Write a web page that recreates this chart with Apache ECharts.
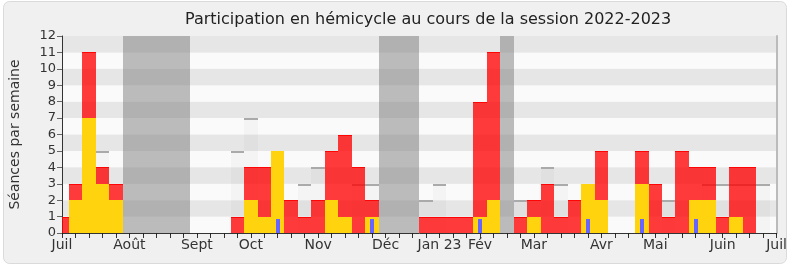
<!DOCTYPE html>
<html><head><meta charset="utf-8">
<script src="https://cdn.jsdelivr.net/npm/echarts@6/dist/echarts.min.js"></script>
<style>html,body{margin:0;padding:0;background:#ffffff}#c{width:790px;height:267px}</style>
</head><body><div id="c"></div>
<script>
// week index categories (0 .. 53)
const weeks = ['0','1','2','3','4','5','6','7','8','9','10','11','12','13','14','15','16','17','18','19','20','21','22','23','24','25','26','27','28','29','30','31','32','33','34','35','36','37','38','39','40','41','42','43','44','45','46','47','48','49','50','51','52','53'];
// month tick labels (week index -> label)
const monthLabels = {0:'Juil',5:'Août',10:'Sept',14:'Oct',19:'Nov',24:'Déc',28:'Jan 23',31:'Fév',35:'Mar',40:'Avr',44:'Mai',49:'Juin',53:'Juil'};
// vacation weeks (12 = full height band)
const vacances = [0,0,0,0,0,12,12,12,12,12,0,0,0,0,0,0,0,0,0,0,0,0,0,0,12,12,12,0,0,0,0,0,0,12,0,0,0,0,0,0,0,0,0,0,0,0,0,0,0,0,0,0,0,0];
// median of deputies (grey)
const mediane = [0,0,0,5,0,0,0,0,0,0,0,0,0,5,7,0,0,0,3,4,0,0,3,3,0,0,0,2,3,0,0,0,0,0,2,0,4,3,0,0,0,0,0,0,0,2,0,0,3,3,3,3,3,0];
// présences (red)
const presences = [1,3,11,4,3,0,0,0,0,0,0,0,0,1,4,4,5,2,1,2,5,6,4,2,0,0,0,1,1,1,1,8,11,0,1,2,3,1,2,3,5,0,0,5,3,1,5,4,4,1,4,4,0,0];
// interventions (yellow)
const interventions = [0,2,7,3,2,0,0,0,0,0,0,0,0,0,2,1,5,0,0,0,2,1,0,1,0,0,0,0,0,0,0,1,2,0,0,1,0,0,0,3,2,0,0,3,0,0,0,2,2,0,1,0,0,0];
// questions (blue)
const questions = [0,0,0,0,0,0,0,0,0,0,0,0,0,0,0,0,0.85,0,0,0,0,0,0,0.85,0,0,0,0,0,0,0,0.85,0,0,0,0,0,0,0,0.85,0,0,0,0.85,0,0,0,0.85,0,0,0,0,0,0];
const yTicks = [0,1,2,3,4,5,6,7,8,9,10,11,12];

const chart = echarts.init(document.getElementById('c'), null, {renderer:'canvas'});

function barSeries(name, values, fill, z, frac, capColor, capW) {
  return {
    type:'custom', name:name, xAxisIndex:0, yAxisIndex:0, z:z, silent:true,
    data: values.map((v,i)=>[i,v]),
    renderItem: function(params, api){
      const v = api.value(1);
      if (!v) return;
      const i = api.value(0);
      const p = api.coord([i, v]);
      const b = api.coord([i, 0]);
      const w = api.size([1,0])[0]*frac;
      const cs = params.coordSys;
      let x0 = Math.round(p[0]-w/2), x1 = Math.round(p[0]+w/2);
      x0 = Math.max(x0, Math.round(cs.x)); x1 = Math.min(x1, Math.round(cs.x+cs.width));
      if (x1 <= x0) return;
      const y0 = Math.round(p[1]), y1 = Math.round(b[1]);
      const children = [{type:'rect', shape:{x:x0, y:y0, width:x1-x0, height:y1-y0}, style:{fill:fill}}];
      if (capColor) children.push({type:'rect', shape:{x:x0, y:y0, width:x1-x0, height:capW}, style:{fill:capColor}});
      return {type:'group', children:children};
    }
  };
}

const font = 'DejaVu Sans';
chart.setOption({
  animation:false,
  backgroundColor:'transparent',
  graphic:[{type:'rect', z:-10, shape:{x:3.5,y:1.5,width:783,height:262,r:6}, style:{fill:'#f0f0f0', stroke:'#dadada', lineWidth:1}}],
  title:{text:'Participation en hémicycle au cours de la session 2022-2023', left:180, top:7,
    textStyle:{fontFamily:font, fontSize:16, fontWeight:'normal', color:'#222'}},
  grid:{left:61, right:10, top:36, bottom:34},
  xAxis:[{
    type:'category', data:weeks, boundaryGap:false, position:'bottom',
    axisLine:{lineStyle:{color:'#333', width:1}},
    axisTick:{interval:0, length:5, lineStyle:{color:'#333'}},
    axisLabel:{interval:0, formatter:(v,i)=> monthLabels[i]||'', fontFamily:font, fontSize:14, color:'#333', margin:5},
    splitLine:{show:false}
  },{
    type:'category', data:weeks, boundaryGap:false, position:'top',
    axisLine:{show:false},
    axisTick:{interval:0, inside:true, length:2, lineStyle:{color:'#222'}},
    axisLabel:{show:false}, splitLine:{show:false}
  }],
  yAxis:[{
    type:'value', min:0, max:12, interval:1,
    name:'Séances par semaine', nameLocation:'middle', nameGap:40,
    nameTextStyle:{fontFamily:font, fontSize:14, color:'#333'},
    axisLine:{show:true, lineStyle:{color:'#333'}},
    axisTick:{show:true, length:5, lineStyle:{color:'#666'}},
    axisLabel:{fontFamily:font, fontSize:13, color:'#333', margin:6, formatter:v=>yTicks.includes(v)?String(v):''},
    splitLine:{show:false},
    splitArea:{show:true, areaStyle:{color:['#fafafa','#e6e6e6']}}
  },{
    type:'value', min:0, max:12, interval:1, position:'right',
    axisLine:{show:true, lineStyle:{color:'#bbbbbb', width:2}},
    axisTick:{show:false}, axisLabel:{show:false}, splitLine:{show:false}
  }],
  series:[
    barSeries('vacances', vacances, 'rgba(120,120,120,0.48)', 1, 1, null, 0),
    barSeries('médiane', mediane, 'rgba(0,0,0,0.025)', 2, 1, '#aaaaaa', 2),
    barSeries('présences', presences, 'rgba(255,0,0,0.77)', 3, 1, 'rgba(255,0,0,0.9)', 1),
    barSeries('interventions', interventions, '#ffd30d', 4, 1, null, 0),
    barSeries('questions', questions, '#6666ff', 5, 0.3, null, 0)
  ]
});
</script></body></html>
